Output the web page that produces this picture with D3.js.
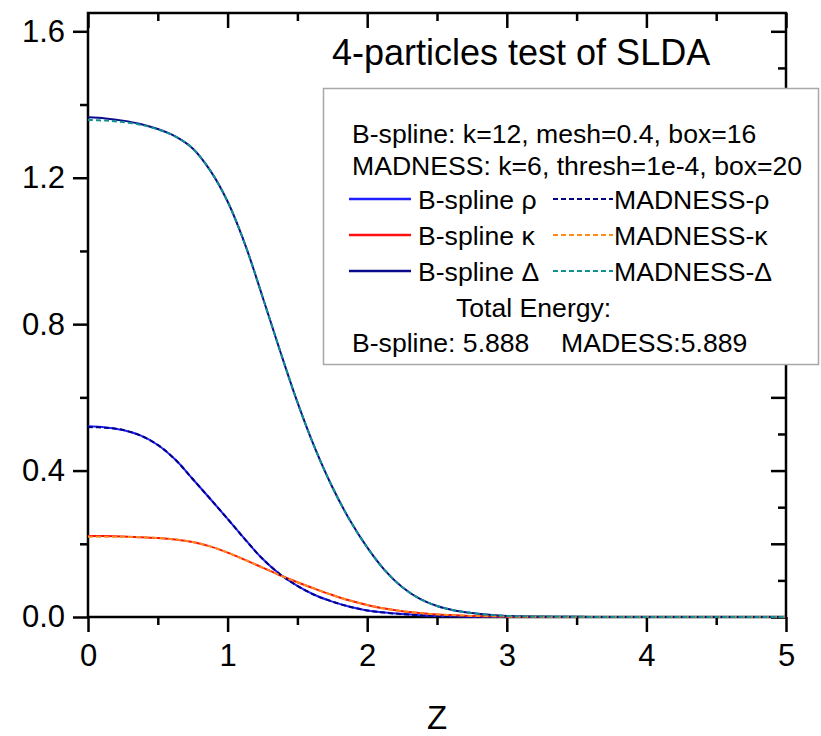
<!DOCTYPE html>
<html>
<head>
<meta charset="utf-8">
<script src="https://cdn.jsdelivr.net/npm/d3@7"></script>
<style>
  html, body { margin: 0; padding: 0; background: #fff; }
  svg text { font-family: "Liberation Sans", Arial, sans-serif; fill: #000; }
</style>
</head>
<body>
<div id="chart"></div>
<script>
// z grid shared by all curves
const zValues = [0, 0.125, 0.25, 0.375, 0.5, 0.625, 0.75, 0.875, 1, 1.125, 1.25, 1.375, 1.5,
  1.625, 1.75, 1.875, 2, 2.125, 2.25, 2.375, 2.5, 2.625, 2.75, 2.875, 3, 3.5, 4, 4.5, 5];

const rhoBspline = [0.521, 0.518, 0.511, 0.496, 0.47, 0.43, 0.377, 0.323, 0.268, 0.212, 0.159, 0.117, 0.085,
  0.06, 0.042, 0.028, 0.018, 0.012, 0.008, 0.005, 0.003, 0.002, 0.001, 0.0005, 0, 0, 0, 0, 0];
const rhoMadness = [0.519, 0.517, 0.511, 0.496, 0.47, 0.43, 0.377, 0.323, 0.268, 0.212, 0.159, 0.117, 0.085,
  0.06, 0.042, 0.028, 0.018, 0.012, 0.008, 0.005, 0.003, 0.002, 0.001, 0.0005, 0, 0, 0, 0, 0];
const kappaBspline = [0.221, 0.221, 0.22, 0.218, 0.216, 0.212, 0.205, 0.193, 0.176, 0.156, 0.135, 0.114, 0.095,
  0.077, 0.06, 0.045, 0.033, 0.023, 0.016, 0.011, 0.007, 0.005, 0.003, 0.002, 0.001, 0, 0, 0, 0];
const kappaMadness = [0.219, 0.219, 0.219, 0.218, 0.216, 0.212, 0.205, 0.193, 0.176, 0.156, 0.135, 0.114, 0.095,
  0.077, 0.06, 0.045, 0.033, 0.023, 0.016, 0.011, 0.007, 0.005, 0.003, 0.002, 0.001, 0, 0, 0, 0];
const deltaBspline = [1.365, 1.362, 1.356, 1.347, 1.333, 1.313, 1.28, 1.22, 1.135, 1.018, 0.875, 0.728, 0.587,
  0.462, 0.355, 0.265, 0.19, 0.128, 0.082, 0.05, 0.03, 0.018, 0.011, 0.006, 0.003, 0.0005, 0, 0, 0];
const deltaMadness = [1.358, 1.356, 1.352, 1.345, 1.332, 1.313, 1.28, 1.22, 1.135, 1.018, 0.875, 0.728, 0.587,
  0.462, 0.355, 0.265, 0.19, 0.128, 0.082, 0.05, 0.03, 0.018, 0.011, 0.006, 0.003, 0.0005, 0, 0, 0];

const yMajorTicks = [0, 0.4, 0.8, 1.2, 1.6];
const yMinorTicks = [0.2, 0.6, 1.0, 1.4];
const xMajorTicks = [0, 1, 2, 3, 4, 5];
const xMinorTicks = [0.5, 1.5, 2.5, 3.5, 4.5];
const rightMajorTicks = [0, 0.2, 0.4, 0.6, 0.8, 1.0, 1.2, 1.4, 1.6];
const rightMinorTicks = [0.1, 0.3, 0.5, 0.7, 0.9, 1.1, 1.3, 1.5];

const titleText = "4-particles test of SLDA";
const xLabel = "Z";
const legendHeader = ["B-spline: k=12, mesh=0.4, box=16", "MADNESS: k=6, thresh=1e-4, box=20"];
const seriesNames = ["B-spline \u03c1", "MADNESS-\u03c1", "B-spline \u03ba", "MADNESS-\u03ba", "B-spline \u0394", "MADNESS-\u0394"];
const energyTitle = "Total Energy:";
const energyValues = ["B-spline: 5.888", "MADESS:5.889"];

const W = 821, H = 736;
const plotLeft = 88, plotRight = 786, plotTop = 13, plotBottom = 617;

const svg = d3.select('#chart').append('svg')
  .attr('width', W).attr('height', H);

const x = d3.scaleLinear().domain([0, 5]).range([plotLeft, plotRight]);
const y = d3.scaleLinear().domain([0, 1.65]).range([plotBottom, plotTop]);

// frame
svg.append('rect')
  .attr('x', plotLeft).attr('y', plotTop)
  .attr('width', plotRight - plotLeft).attr('height', plotBottom - plotTop)
  .attr('fill', 'none').attr('stroke', '#000').attr('stroke-width', 2.5);

function styleAxis(g) {
  g.select('.domain').remove();
  g.selectAll('.tick line').attr('stroke', '#000').attr('stroke-width', 2.5);
  g.selectAll('.tick text').attr('font-size', 31);
}

// left axis
svg.append('g').attr('transform', `translate(${plotLeft},0)`)
  .call(d3.axisLeft(y).tickValues(yMajorTicks).tickSize(15).tickPadding(8).tickFormat(d3.format('.1f')))
  .call(styleAxis);
svg.append('g').attr('transform', `translate(${plotLeft},0)`)
  .call(d3.axisLeft(y).tickValues(yMinorTicks).tickSize(8).tickFormat(''))
  .call(styleAxis);

// right axis, ticks inward
svg.append('g').attr('transform', `translate(${plotRight},0)`)
  .call(d3.axisLeft(y).tickValues(rightMajorTicks).tickSize(15).tickFormat(''))
  .call(styleAxis);
svg.append('g').attr('transform', `translate(${plotRight},0)`)
  .call(d3.axisLeft(y).tickValues(rightMinorTicks).tickSize(8).tickFormat(''))
  .call(styleAxis);

// bottom axis
svg.append('g').attr('transform', `translate(0,${plotBottom})`)
  .call(d3.axisBottom(x).tickValues(xMajorTicks).tickSize(15).tickPadding(12).tickFormat(d3.format('d')))
  .call(styleAxis);
svg.append('g').attr('transform', `translate(0,${plotBottom})`)
  .call(d3.axisBottom(x).tickValues(xMinorTicks).tickSize(8).tickFormat(''))
  .call(styleAxis);

// top axis, ticks inward
svg.append('g').attr('transform', `translate(0,${plotTop})`)
  .call(d3.axisBottom(x).tickValues(xMajorTicks).tickSize(15).tickFormat(''))
  .call(styleAxis);
svg.append('g').attr('transform', `translate(0,${plotTop})`)
  .call(d3.axisBottom(x).tickValues(xMinorTicks).tickSize(8).tickFormat(''))
  .call(styleAxis);

// curves
const series = [
  { values: rhoBspline, color: '#1f1fff', dash: null },
  { values: kappaBspline, color: '#ff1010', dash: null },
  { values: deltaBspline, color: '#0a0a8a', dash: null },
  { values: rhoMadness, color: '#000080', dash: '5,3' },
  { values: kappaMadness, color: '#ff8c1a', dash: '5,3' },
  { values: deltaMadness, color: '#119090', dash: '5,3' }
];

const line = d3.line()
  .x(d => x(d[0]))
  .y(d => y(Math.max(0, d[1])))
  .curve(d3.curveCatmullRom.alpha(0.5));

series.forEach(s => {
  svg.append('path')
    .datum(zValues.map((z, i) => [z, s.values[i]]))
    .attr('fill', 'none')
    .attr('stroke', s.color)
    .attr('stroke-width', 2)
    .attr('stroke-dasharray', s.dash)
    .attr('d', line);
});

// x label and title
svg.append('text').attr('x', (plotLeft + plotRight) / 2).attr('y', 729)
  .attr('text-anchor', 'middle').attr('font-size', 33).text(xLabel);

svg.append('text').attr('x', 332).attr('y', 65)
  .attr('font-size', 36).text(titleText);

// legend box
const lg = svg.append('g');
lg.append('rect')
  .attr('x', 323.5).attr('y', 88.5).attr('width', 495).attr('height', 276)
  .attr('fill', '#fff').attr('stroke', '#a8a8a8').attr('stroke-width', 1.5);

const fs = 26.6;
lg.append('text').attr('x', 352).attr('y', 143).attr('font-size', fs).text(legendHeader[0]);
lg.append('text').attr('x', 352).attr('y', 175).attr('font-size', fs).text(legendHeader[1]);

const rowY = [199, 235, 271];
rowY.forEach((ry, i) => {
  const solid = series[i], dashed = series[i + 3];
  lg.append('line').attr('x1', 349).attr('x2', 411).attr('y1', ry).attr('y2', ry)
    .attr('stroke', solid.color).attr('stroke-width', 2.5);
  lg.append('text').attr('x', 418).attr('y', ry + 9.5).attr('font-size', fs).text(seriesNames[i * 2]);
  lg.append('line').attr('x1', 553).attr('x2', 613).attr('y1', ry).attr('y2', ry)
    .attr('stroke', dashed.color).attr('stroke-width', 2.2).attr('stroke-dasharray', dashed.dash);
  lg.append('text').attr('x', 614).attr('y', ry + 9.5).attr('font-size', fs).text(seriesNames[i * 2 + 1]);
});

lg.append('text').attr('x', 456).attr('y', 317).attr('font-size', fs).text(energyTitle);
lg.append('text').attr('x', 352).attr('y', 352).attr('font-size', fs).text(energyValues[0]);
lg.append('text').attr('x', 561).attr('y', 352).attr('font-size', fs).text(energyValues[1]);
</script>
</body>
</html>
